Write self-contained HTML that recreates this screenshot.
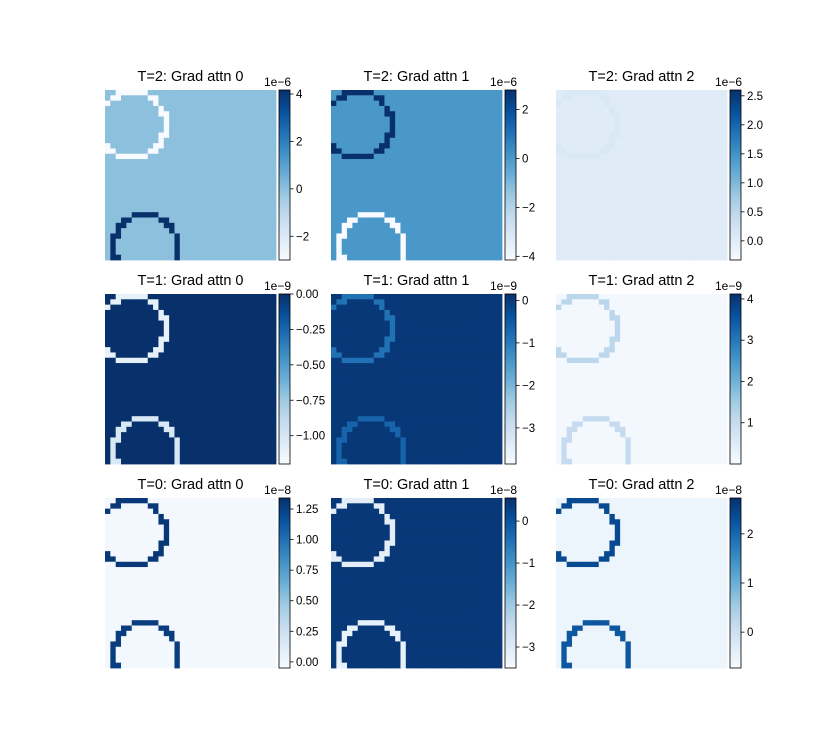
<!DOCTYPE html>
<html><head><meta charset="utf-8"><style>
body{margin:0;background:#fff;}
svg text{font-family:"Liberation Sans","DejaVu Sans",sans-serif;}
</style></head><body>
<svg id="fig" width="825" height="750" xmlns="http://www.w3.org/2000/svg"></svg>
<script>
const titles=["T=2: Grad attn 0","T=2: Grad attn 1","T=2: Grad attn 2","T=1: Grad attn 0","T=1: Grad attn 1","T=1: Grad attn 2","T=0: Grad attn 0","T=0: Grad attn 1","T=0: Grad attn 2"];
const exponents=["1e\u22126","1e\u22126","1e\u22126","1e\u22129","1e\u22129","1e\u22129","1e\u22128","1e\u22128","1e\u22128"];
const vmins=[-3.0,-4.15,-0.33,-1.2,-3.85,0.0,-0.05,-3.5,-0.73];
const vmaxs=[4.17,2.8,2.6,0.0,0.15,4.12,1.34,0.55,2.73];
const tickLists=[[-2,0,2,4],[-4,-2,0,2],[0,0.5,1,1.5,2,2.5],[-1,-0.75,-0.5,-0.25,0],[-3,-2,-1,0],[1,2,3,4],[0,0.25,0.5,0.75,1,1.25],[-3,-2,-1,0],[0,1,2]];
const tickDigits=[0,0,1,2,0,0,2,0,0];
// normalized colormap levels: background, ring of circle 1, ring of circle 2
const bgLevels=[0.42,0.6,0.12,1.0,0.97,0.02,0.02,0.97,0.05];
const ring1Levels=[0.0,1.0,0.15,0.08,0.75,0.28,0.97,0.1,0.9];
const ring2Levels=[1.0,0.0,0.12,0.15,0.8,0.25,0.95,0.08,0.85];
const circleCX=[5.1,7.6], circleCY=[6.6,29.4], circleR=[6.2,6.0];
const N=32;
const stops=["#f7fbff","#deebf7","#c6dbef","#9ecae1","#6baed6","#4292c6","#2171b5","#08519c","#08306b"];
function hx(c){return [1,3,5].map(i=>parseInt(c.substr(i,2),16));}
function cmap(t){t=Math.max(0,Math.min(1,t));const p=t*8,i=Math.min(7,Math.floor(p)),f=p-i;const a=hx(stops[i]),b=hx(stops[i+1]);return "rgb("+a.map((v,k)=>Math.round(v+(b[k]-v)*f)).join(",")+")";}
const svg=document.getElementById('fig');const NS="http://www.w3.org/2000/svg";
function el(tag,attrs,parent){const e=document.createElementNS(NS,tag);for(const k in attrs)e.setAttribute(k,attrs[k]);(parent||svg).appendChild(e);return e;}
const colX=[105,331,556], rowY=[90,294,498], W=171, H=170, cbW=11, cbGap=174;
for(let p=0;p<9;p++){
  const x0=colX[p%3], y0=rowY[Math.floor(p/3)];
  const g=el('g',{});
  
  
  const hm=el('g',{},g);
  
  
  const cw=W/N, ch=H/N;
  for(let r=0;r<N;r++)for(let c=0;c<N;c++){
    let lv=bgLevels[p];
    for(let k=0;k<2;k++){const d=Math.hypot(c+0.5-circleCX[k],r+0.5-circleCY[k]);if(Math.abs(d-circleR[k])<0.56)lv=k==0?ring1Levels[p]:ring2Levels[p];}
    const cell=el('rect',{x:(x0+c*cw).toFixed(2),y:(y0+r*ch).toFixed(2),width:(cw+0.4).toFixed(2),height:(ch+0.4).toFixed(2),fill:cmap(lv)},hm);
    
    
  }
  const t=el('text',{x:x0+W/2,y:y0-9,'font-size':14.5,'text-anchor':'middle'},g);t.textContent=titles[p];
  
  
  const cx=x0+cbGap, cb=el('g',{},g);
  
  
  const gid='grad'+p;const lg=el('linearGradient',{id:gid,x1:0,y1:1,x2:0,y2:0},cb);
  stops.forEach((s,i)=>el('stop',{offset:i/8,'stop-color':s},lg));
  el('rect',{x:cx,y:y0,width:cbW,height:H,fill:'url(#'+gid+')',stroke:'#000','stroke-width':0.8},cb);
  const vy=v=>y0+H*(vmaxs[p]-v)/(vmaxs[p]-vmins[p]);
  tickLists[p].forEach(v=>{const y=vy(v);el('line',{x1:cx+cbW,x2:cx+cbW+3.5,y1:y,y2:y,stroke:'#000','stroke-width':0.8},cb);
    const tl=el('text',{x:cx+cbW+6,y:y+4,'font-size':11.5},cb);tl.textContent=(v<0?'\u2212':'')+Math.abs(v).toFixed(tickDigits[p]);
    
    });
  const ex=el('text',{x:cx+cbW+1,y:y0-4,'font-size':12,'text-anchor':'end'},cb);ex.textContent=exponents[p];
  
  
}
</script>
</body></html>
